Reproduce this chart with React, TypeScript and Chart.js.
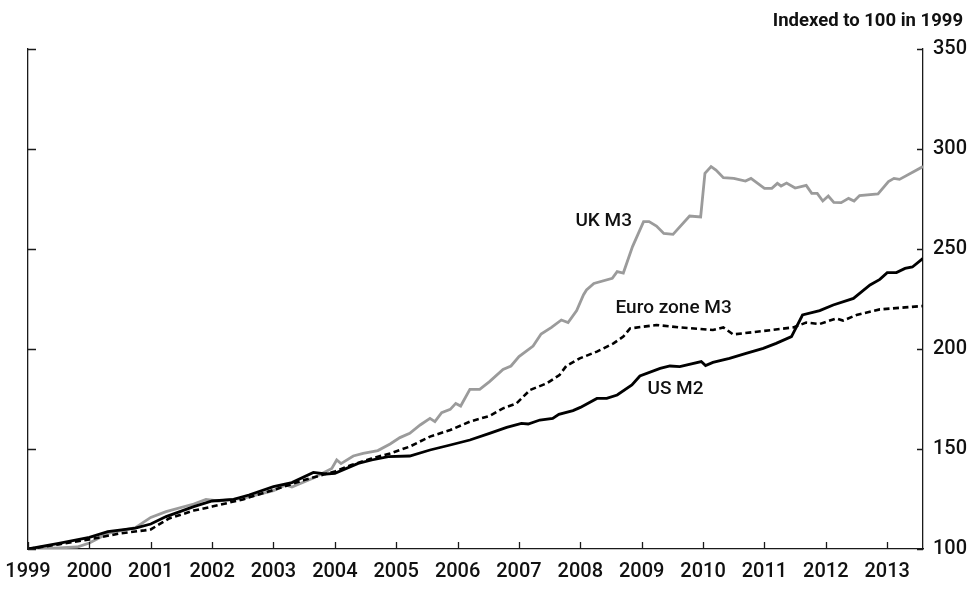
import React, { useEffect, useRef } from "react";
import { Chart, registerables } from "chart.js";

Chart.register(...registerables);

const FONT = 'Roboto, "Liberation Sans", sans-serif';

// ---- axis ticks ----
const xTickYears = [1999, 2000, 2001, 2002, 2003, 2004, 2005, 2006, 2007, 2008, 2009, 2010, 2011, 2012, 2013];
const yTickValues = [100, 150, 200, 250, 300, 350];
const xMin = 1999;
const xMax = 2013.583;
const titleText = "Indexed to 100 in 1999";

// ---- US M2 ----
const usDates = [
  1999.0, 1999.5, 2000.0, 2000.3, 2000.75, 2001.0, 2001.25, 2001.7, 2002.0, 2002.35, 2002.6,
  2003.0, 2003.3, 2003.65, 2003.85, 2004.0, 2004.38, 2004.6, 2004.87, 2005.22, 2005.55, 2005.88,
  2006.2, 2006.52, 2006.8, 2007.04, 2007.15, 2007.34, 2007.55, 2007.65, 2007.88, 2008.0, 2008.27,
  2008.43, 2008.6, 2008.84, 2008.97, 2009.3, 2009.46, 2009.62, 2009.97, 2010.04, 2010.16, 2010.43,
  2010.7, 2010.98, 2011.19, 2011.44, 2011.62, 2011.9, 2012.12, 2012.45, 2012.72, 2012.88, 2013.0,
  2013.15, 2013.29, 2013.41, 2013.583,
];
const usValues = [
  100, 102.8, 105.8, 108.7, 110.4, 112.5, 116.2, 121.2, 124, 124.8, 127,
  131.2, 133.2, 138.3, 137.5, 137.8, 142.8, 144.5, 146.2, 146.5, 149.5, 152,
  154.5, 157.8, 160.8, 162.8, 162.5, 164.5, 165.3, 167.3, 169.2, 170.8, 175.3,
  175.3, 177, 182, 186.5, 190.3, 191.5, 191.2, 193.7, 191.7, 193.3, 195.3,
  197.8, 200.3, 202.8, 206.2, 217, 219.2, 222, 225.3, 232, 234.8, 238.2,
  238.2, 240.3, 241, 245.3,
];

// ---- Euro zone M3 ----
const euroDates = [
  1999.0, 1999.5, 2000.0, 2000.5, 2000.9, 2001.0, 2001.3, 2001.7, 2002.0, 2002.5, 2003.0,
  2003.5, 2004.0, 2004.27, 2004.6, 2004.9, 2005.22, 2005.55, 2005.88, 2006.2, 2006.52, 2006.74,
  2006.96, 2007.18, 2007.45, 2007.66, 2007.77, 2007.99, 2008.27, 2008.54, 2008.7, 2008.81, 2009.24,
  2009.62, 2010.16, 2010.33, 2010.49, 2010.98, 2011.47, 2011.68, 2011.9, 2012.17, 2012.28, 2012.5,
  2012.88, 2013.29, 2013.45, 2013.583,
];
const euroValues = [
  100, 102.3, 104.8, 107.8, 109.3, 109.8, 115.3, 119.2, 121.2, 124.8, 129.5,
  134.5, 138.8, 142, 145.3, 147.8, 151.2, 156.2, 159.5, 163.7, 166.5, 170.3,
  172.8, 179.5, 182.8, 187, 191.5, 195.3, 198.7, 202.8, 206.2, 210.3, 212,
  210.8, 209.5, 210.8, 207.3, 209, 210.8, 213.2, 212.5, 215.3, 214.2, 217,
  219.8, 220.8, 221.2, 221.5,
];

// ---- UK M3 ----
const ukDates = [
  1999.0, 1999.5, 1999.8, 2000.0, 2000.3, 2000.75, 2001.0, 2001.25, 2001.7, 2001.9, 2002.1,
  2002.5, 2003.0, 2003.2, 2003.3, 2003.65, 2003.95, 2004.03, 2004.1, 2004.3, 2004.46, 2004.7,
  2004.9, 2005.06, 2005.22, 2005.39, 2005.55, 2005.63, 2005.74, 2005.88, 2005.97, 2006.05, 2006.2,
  2006.36, 2006.52, 2006.74, 2006.87, 2007.0, 2007.23, 2007.36, 2007.53, 2007.69, 2007.8, 2007.94,
  2008.05, 2008.1, 2008.22, 2008.52, 2008.6, 2008.7, 2008.85, 2009.03, 2009.12, 2009.24, 2009.36,
  2009.51, 2009.78, 2009.96, 2010.03, 2010.13, 2010.21, 2010.33, 2010.5, 2010.69, 2010.78, 2011.0,
  2011.12, 2011.21, 2011.27, 2011.36, 2011.5, 2011.68, 2011.77, 2011.86, 2011.95, 2012.04, 2012.13,
  2012.25, 2012.37, 2012.46, 2012.55, 2012.85, 2013.02, 2013.11, 2013.2, 2013.583,
];
const ukValues = [
  100, 100.5, 101, 103, 107.8, 110.7, 115.8, 118.7, 122.5, 124.8, 124,
  125.3, 129.2, 132, 131, 135.5, 140.3, 144.5, 142.7, 146.5, 147.8, 149.2,
  152.5, 155.7, 157.8, 162, 165.3, 163.7, 168.2, 169.8, 172.8, 171.5, 179.8,
  179.8, 183.7, 189.8, 191.5, 196.2, 201.5, 207.5, 210.8, 214.5, 213.2, 219.2,
  227, 229.5, 232.8, 235.3, 238.7, 238, 251.2, 263.7, 263.7, 261.5, 257.8,
  257.3, 266.5, 266, 287.8, 291.2, 289.5, 285.7, 285.3, 284, 285.3, 280.3,
  280.3, 282.8, 281.5, 283, 280.5, 281.8, 277.8, 277.8, 274, 276.5, 273.3,
  273.2, 275.3, 274, 276.7, 277.5, 283.7, 285.3, 284.8, 291.2,
];

// ---- in-chart series labels (anchored in data coordinates) ----
const seriesLabelTexts = ["UK M3", "Euro zone M3", "US M2"];
const seriesLabelYears = [2008.38, 2009.52, 2009.55];
const seriesLabelValues = [264, 220.3, 179.7];

const toPoints = (xs: number[], ys: number[]) => xs.map((x, i) => ({ x, y: ys[i] }));

const decorPlugin = {
  id: "decor",
  afterDraw(chart: any) {
    const { ctx, chartArea, scales } = chart;
    const x = scales.x;
    const y = scales.y;
    ctx.save();
    ctx.strokeStyle = "#1a1a1a";
    ctx.lineWidth = 1.3;
    ctx.beginPath();
    yTickValues.forEach((v) => {
      const py = Math.round(y.getPixelForValue(v)) + 0.5;
      ctx.moveTo(chartArea.left, py);
      ctx.lineTo(chartArea.left + 8, py);
      ctx.moveTo(chartArea.right - 6, py);
      ctx.lineTo(chartArea.right, py);
    });
    xTickYears.forEach((v) => {
      const px = Math.round(x.getPixelForValue(v)) + 0.5;
      ctx.moveTo(px, chartArea.bottom);
      ctx.lineTo(px, chartArea.bottom - 7);
    });
    ctx.stroke();

    ctx.fillStyle = "#111";
    ctx.font = `bold 18.5px ${FONT}`;
    ctx.textAlign = "right";
    ctx.textBaseline = "alphabetic";
    ctx.fillText(titleText, chartArea.right + 40, 26);

    ctx.font = `500 19px ${FONT}`;
    ctx.textAlign = "center";
    ctx.textBaseline = "middle";
    seriesLabelTexts.forEach((t, i) => {
      ctx.fillText(t, x.getPixelForValue(seriesLabelYears[i]), y.getPixelForValue(seriesLabelValues[i]));
    });
    ctx.restore();
  },
};

export default function App() {
  const canvasRef = useRef<HTMLCanvasElement | null>(null);

  useEffect(() => {
    if (!canvasRef.current) return;
    const chart = new Chart(canvasRef.current, {
      type: "line",
      data: {
        datasets: [
          {
            label: "US M2",
            data: toPoints(usDates, usValues),
            borderColor: "#000",
            borderWidth: 2.8,
            pointRadius: 0,
            tension: 0,
            yAxisID: "y",
          },
          {
            label: "Euro zone M3",
            data: toPoints(euroDates, euroValues),
            borderColor: "#000",
            borderWidth: 2.6,
            borderDash: [6, 3.5],
            pointRadius: 0,
            tension: 0,
            yAxisID: "y",
          },
          {
            label: "UK M3",
            data: toPoints(ukDates, ukValues),
            borderColor: "#9b9b9b",
            borderWidth: 2.8,
            pointRadius: 0,
            tension: 0,
            yAxisID: "y",
          },
        ],
      },
      options: {
        animation: false,
        responsive: true,
        maintainAspectRatio: false,
        layout: { padding: { top: 49, right: 0, bottom: 0, left: 0 } },
        plugins: {
          legend: { display: false },
          tooltip: { enabled: false },
          title: { display: false },
        },
        scales: {
          x: {
            type: "linear",
            position: "bottom",
            min: xMin,
            max: xMax,
            grid: { display: false, drawTicks: false },
            border: { display: true, color: "#1a1a1a", width: 1.3 },
            afterBuildTicks: (scale: any) => {
              scale.ticks = xTickYears.map((v) => ({ value: v }));
            },
            afterFit: (scale: any) => {
              scale.height = 48;
              scale.paddingLeft = 0;
              scale.paddingRight = 0;
            },
            ticks: {
              autoSkip: false,
              maxRotation: 0,
              padding: 11,
              color: "#111",
              font: { family: FONT, size: 20, weight: "500" },
              callback: (v: any) => String(v),
            },
          },
          y: {
            type: "linear",
            position: "right",
            min: 100,
            max: 350,
            grid: { display: false, drawTicks: false },
            border: { display: true, color: "#1a1a1a", width: 1.3 },
            afterBuildTicks: (scale: any) => {
              scale.ticks = yTickValues.map((v) => ({ value: v }));
            },
            afterFit: (scale: any) => {
              scale.width = 52;
            },
            ticks: {
              padding: 10,
              color: "#111",
              font: { family: FONT, size: 20, weight: "500" },
              callback: (v: any) => String(v),
            },
          },
          yLeft: {
            type: "linear",
            position: "left",
            min: 100,
            max: 350,
            grid: { display: false, drawTicks: false },
            border: { display: true, color: "#1a1a1a", width: 1.3 },
            afterFit: (scale: any) => {
              scale.width = 28;
            },
            ticks: { display: false },
          },
        },
      },
      plugins: [decorPlugin],
    });
    return () => chart.destroy();
  }, []);

  return (
    <div style={{ position: "absolute", left: 0, top: 0, width: 975, height: 597, background: "#fff" }}>
      <canvas ref={canvasRef} />
    </div>
  );
}
